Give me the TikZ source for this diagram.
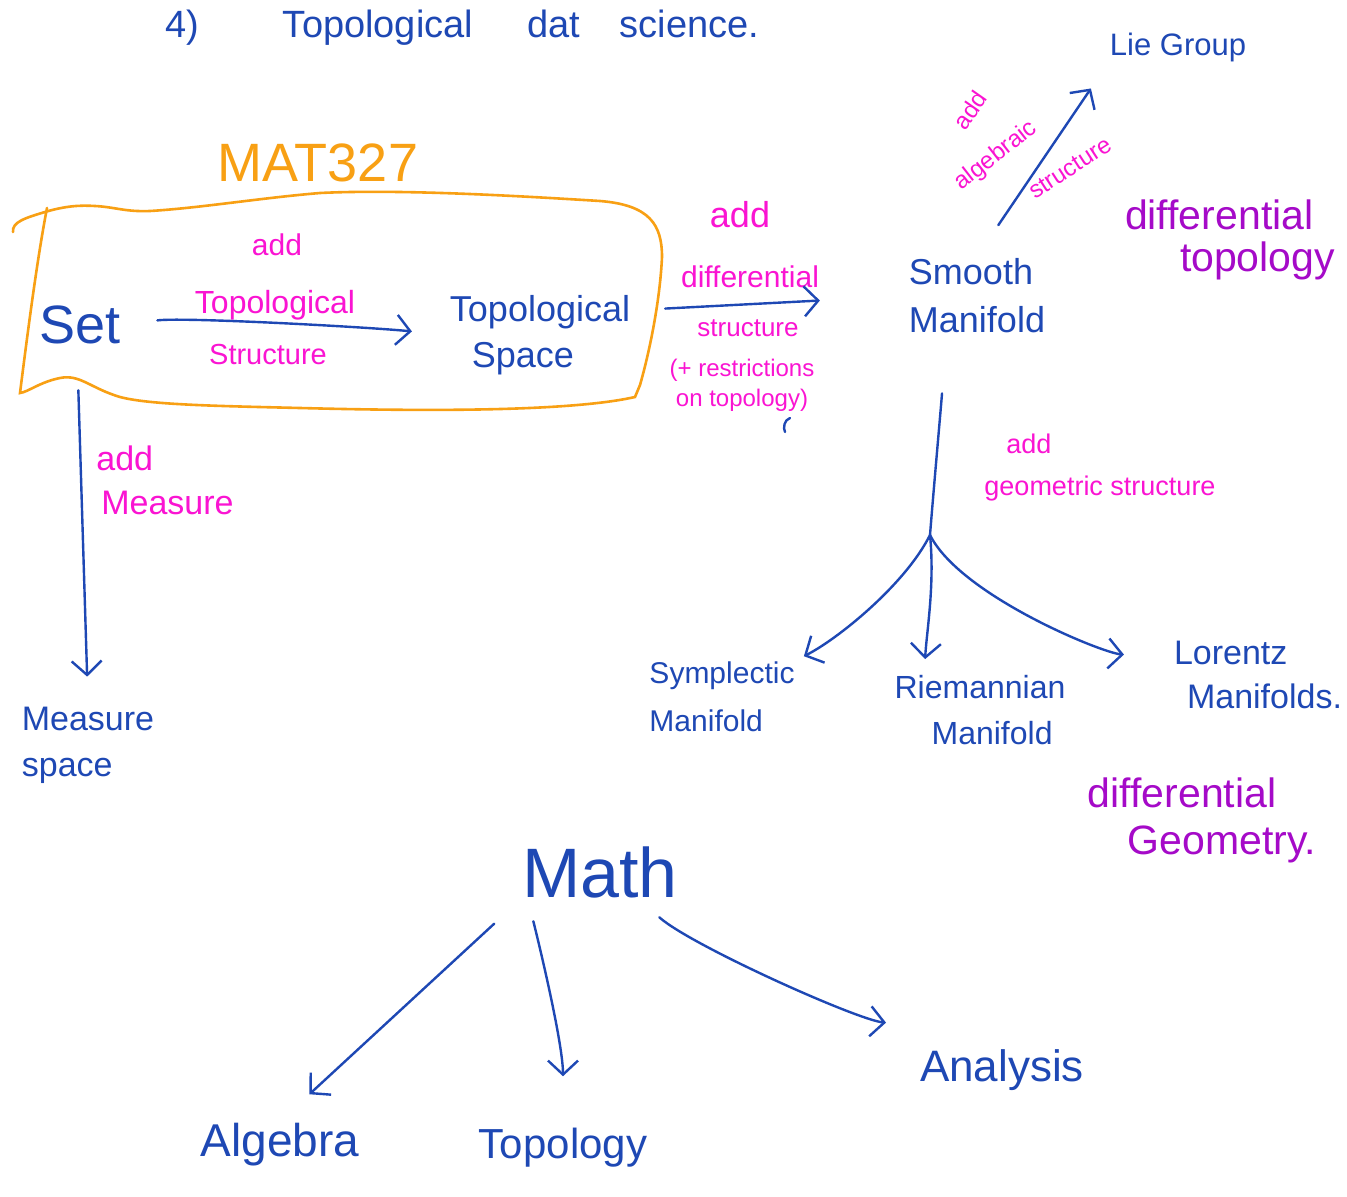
\documentclass[tikz,border=0pt]{standalone}
\usepackage{fontspec}
\setmainfont{Liberation Sans}
\usetikzlibrary{arrows.meta}

\definecolor{ink}{RGB}{30,72,180}
\definecolor{pinkink}{RGB}{250,20,210}
\definecolor{orangeink}{RGB}{248,160,20}
\definecolor{purpleink}{RGB}{165,10,200}
\newcommand{\hw}[2]{\fontsize{#1}{#2}\selectfont}

\begin{document}
\begin{tikzpicture}[x=1pt, y=-1pt,
  every node/.style={inner sep=2pt, text=ink},
  note/.style={text=pinkink},
  remark/.style={text=purpleink},
  pen/.style={draw=ink, line width=2.4pt, line cap=round, line join=round},
  pen arrow/.style={pen, -{Straight Barb[length=14pt,width=30pt]}},
  box line/.style={draw=orangeink, line width=2.6pt, line cap=round}]

\useasboundingbox[fill=white] (0,0) rectangle (1347,1197);

% Title
\node[anchor=west, font=\hw{38}{42}] (title) at (163,28) {4)\hspace{84pt}Topological\hspace{54pt}dat\hspace{40pt}science.};

% MAT327 box
\node[text=orangeink, font=\hw{54}{58}] (course) at (318,163) {MAT327};
\draw[box line] (13,232) .. controls (12,222) and (25,218) .. (45,212)
  .. controls (65,206) and (80,205) .. (95,206)
  .. controls (115,207) and (125,212) .. (150,211)
  .. controls (200,208) and (260,198) .. (320,193)
  .. controls (400,189) and (520,196) .. (600,201)
  .. controls (650,205) and (662,225) .. (662,257)
  .. controls (660,300) and (650,350) .. (640,385)
  -- (635,397)
  .. controls (560,414) and (380,410) .. (300,408)
  .. controls (220,406) and (150,405) .. (120,397)
  .. controls (90,388) and (80,374) .. (60,378)
  .. controls (40,382) and (28,392) .. (20,393)
  .. controls (28,330) and (37,260) .. (47,208);

% Spaces
\node[font=\hw{54}{58}] (set) at (80,325) {Set};
\node[font=\hw{36}{46}, align=left] (topsp) at (540,335) {Topological\\\hspace*{22pt}Space};
\node[font=\hw{36}{48}, align=left] (smooth) at (977,296) {Smooth\\Manifold};
\node[font=\hw{31}{34}] (lie) at (1178,47) {Lie Group};
\node[font=\hw{34}{46}, align=left] (msp) at (88,745) {Measure\\space};
\node[font=\hw{30}{48}, align=left] (sympl) at (722,697) {Symplectic\\Manifold};
\node[font=\hw{32}{46}, align=left] (riem) at (980,710) {Riemannian\\\hspace*{37pt}Manifold};
\node[font=\hw{34}{44}, align=left] (lor) at (1258,675) {Lorentz\\\hspace*{13pt}Manifolds.};

% Fields
\node[remark, font=\hw{41}{42}, align=left] (difftop) at (1230,240) {differential\\\hspace*{55pt}topology};
\node[remark, font=\hw{41}{47}, align=left] (diffgeo) at (1202,820) {differential\\\hspace*{40pt}Geometry.};

% Labels
\node[note, font=\hw{30}{32}] (addtop) at (277,245) {add};
\node[note, font=\hw{32}{34}] (toplbl) at (275,305) {Topological};
\node[note, font=\hw{29}{30}] (structlbl) at (268,355) {Structure};
\node[note, font=\hw{36}{38}] (adddiff) at (740,215) {add};
\node[note, font=\hw{30}{32}] (difflbl) at (750,277) {differential};
\node[note, font=\hw{26}{28}] (structdiff) at (748,328) {structure};
\node[note, font=\hw{24}{30}, align=center] (restrict) at (742,385) {(+ restrictions\\on topology)};
\node[note, rotate=55, font=\hw{24}{26}] (addalg) at (970,110) {add};
\node[note, rotate=38, font=\hw{24}{26}] (alglbl) at (996,156) {algebraic};
\node[note, rotate=33, font=\hw{24}{26}] (structalg) at (1070,168) {structure};
\node[note, font=\hw{34}{44}, align=left] (addmeas) at (165,480) {add\\\hspace*{5pt}Measure};
\node[note, font=\hw{27}{42}, align=left] (geomlbl) at (1100,468) {\hspace*{22pt}add\\geometric structure};

% Math
\node[font=\hw{70}{74}] (math) at (600,872) {Math};
\node[font=\hw{46}{50}] (alg) at (280,1145) {Algebra};
\node[font=\hw{42}{46}] (topo) at (563,1148) {Topology};
\node[font=\hw{44}{48}] (ana) at (1002,1070) {Analysis};

% Connectors
\draw[pen arrow, shorten <=35pt, shorten >=36pt] (set.east) .. controls +(60,-8) and +(-80,-8) .. (topsp.west);
\draw[pen arrow, shorten <=33pt, shorten >=87pt] (topsp.15) -- (smooth.west);
\draw[pen arrow, shorten <=38pt, shorten >=30pt] (smooth.north) -- (lie.south west);
\draw[pen arrow, shorten <=44pt, shorten >=28pt] ([xshift=-3pt]set.south) -- (msp.north);

\coordinate (split) at (930,535);
\draw[pen, shorten <=58pt] ([xshift=-35pt]smooth.south) .. controls +(0,60) and +(4,-50) .. (split);
\draw[pen arrow, shorten >=8pt] (split) .. controls +(-25,50) and +(40,-20) .. (sympl.north east);
\draw[pen arrow, shorten >=14pt] (split) .. controls +(5,50) and +(2,-40) .. ([xshift=32pt]riem.north west);
\draw[pen arrow, shorten >=48pt] (split) .. controls +(30,60) and +(-70,-5) .. ([yshift=17pt]lor.west);
\draw[pen] (790,418) .. controls (784,420) and (783,428) .. (785,432);

\draw[pen arrow, shorten <=35pt, shorten >=40pt] (math.south west) -- (alg.north);
\draw[pen arrow, shorten <=22pt, shorten >=50pt] ([xshift=-72pt]math.south) .. controls +(15,60) and +(0,-80) .. (topo.north);
\draw[pen arrow, shorten <=26pt, shorten >=32pt] ([xshift=40pt]math.south) .. controls +(50,45) and +(-60,-5) .. ([yshift=22pt]ana.north west);

\end{tikzpicture}
\end{document}
